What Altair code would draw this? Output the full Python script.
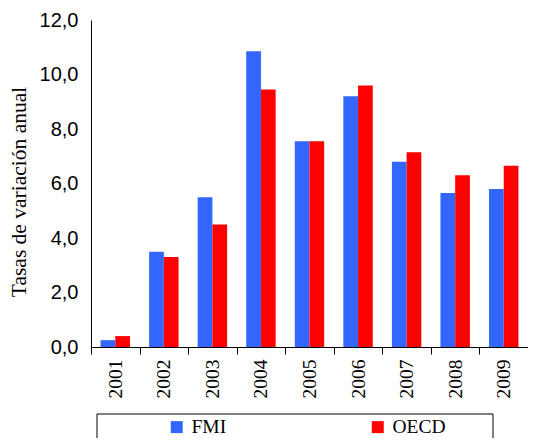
import altair as alt
import pandas as pd

years = ["2001", "2002", "2003", "2004", "2005", "2006", "2007", "2008", "2009"]
fmi = [0.25, 3.5, 5.5, 10.85, 7.55, 9.2, 6.8, 5.65, 5.8]
oecd = [0.4, 3.3, 4.5, 9.45, 7.55, 9.6, 7.15, 6.3, 6.65]
series = ["FMI", "OECD"]
colors = ["#3366FF", "#FF0000"]
y_ticks = [0, 2, 4, 6, 8, 10, 12]

rows = []
for i, yr in enumerate(years):
    rows.append({"year": yr, "serie": series[0], "value": fmi[i]})
    rows.append({"year": yr, "serie": series[1], "value": oecd[i]})
df = pd.DataFrame(rows)

bars = alt.Chart(df).mark_bar().encode(
    x=alt.X("year:N", sort=years, title=None,
            scale=alt.Scale(paddingInner=0, paddingOuter=0),
            axis=alt.Axis(labelAngle=270, tickBand="extent", tickSize=7,
                          tickColor="black", domainColor="black",
                          labelFont="Liberation Serif", labelFontSize=19.5,
                          labelColor="black", labelPadding=5,
                          labelAlign="right", labelBaseline="middle")),
    xOffset=alt.XOffset("serie:N", sort=series,
                        scale=alt.Scale(paddingInner=0, paddingOuter=0.65)),
    y=alt.Y("value:Q", title="Tasas de variación anual",
            scale=alt.Scale(domain=[0, 12], nice=False),
            axis=alt.Axis(values=y_ticks, ticks=False, tickSize=0, grid=False,
                          domainColor="black",
                          labelExpr="replace(format(datum.value, '.1f'), '.', ',')",
                          labelFont="Liberation Sans", labelFontSize=20,
                          labelColor="black", labelPadding=13,
                          titleFont="Liberation Serif", titleFontSize=21.5,
                          titleFontWeight="normal", titleColor="black",
                          titleAngle=270, titleX=-72, titleY=171.5,
                          titleAlign="center", titleBaseline="middle")),
    color=alt.Color("serie:N", sort=series,
                    scale=alt.Scale(domain=series, range=colors),
                    legend=alt.Legend(title=None, orient="none", direction="horizontal",
                                      legendX=76, legendY=397, padding=0,
                                      symbolType="square", symbolSize=144,
                                      symbolStrokeWidth=0, symbolOpacity=1,
                                      labelFont="Liberation Serif", labelFontSize=19.5,
                                      labelColor="black", labelOffset=5,
                                      columnPadding=141)),
)

frame = alt.Chart(pd.DataFrame({"a": [0]})).mark_rect(
    filled=False, stroke="black", strokeWidth=1
).encode(
    x=alt.value(6), x2=alt.value(402), y=alt.value(394), y2=alt.value(440)
)

chart = alt.layer(bars, frame).properties(
    width=437, height=327,
    autosize="none",
    padding={"left": 83, "top": 12, "right": 0, "bottom": 91},
).configure_view(stroke=None)

chart.save("out.html", embed_options={"renderer": "svg", "actions": False})
